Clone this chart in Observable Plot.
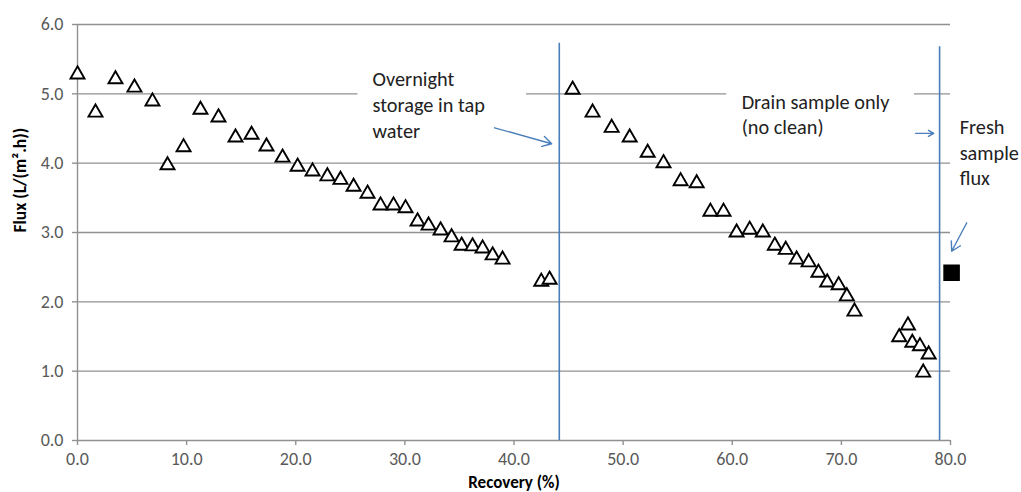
<!DOCTYPE html>
<html>
<head>
<meta charset="utf-8">
<script src="https://cdn.jsdelivr.net/npm/d3@7"></script>
<script src="https://cdn.jsdelivr.net/npm/@observablehq/plot@0.6"></script>
<style>
  html, body { margin: 0; padding: 0; background: #fff; }
  #chart svg { display: block; }
</style>
</head>
<body>
<div id="chart"></div>
<script>
// Recovery (%) and Flux (L/(m².h)) for the drain-sample run (open triangles)
const recovery = [0.0, 1.65, 3.48, 5.22, 6.87, 8.25, 9.72, 11.27, 12.92, 14.48, 15.95, 17.32, 18.79, 20.17, 21.54, 22.9, 24.1, 25.3, 26.58, 27.77, 28.96, 30.06, 31.16, 32.17, 33.27, 34.28, 35.2, 36.2, 37.12, 38.04, 38.95, 42.5, 43.26,
  45.37, 47.2, 48.95, 50.6, 52.25, 53.7, 55.27, 56.74, 58.0, 59.2, 60.4, 61.6, 62.8, 63.9, 64.9, 65.9, 67.0, 67.9, 68.7, 69.75, 70.5, 71.2, 75.3, 76.1, 76.5, 77.2, 78.0, 77.5];
const flux = [5.28, 4.73, 5.21, 5.09, 4.89, 3.97, 4.23, 4.77, 4.66, 4.37, 4.41, 4.24, 4.08, 3.95, 3.88, 3.81, 3.76, 3.66, 3.56, 3.39, 3.39, 3.35, 3.16, 3.10, 3.03, 2.93, 2.81, 2.80, 2.77, 2.67, 2.61, 2.29, 2.32,
  5.06, 4.73, 4.51, 4.37, 4.15, 4.00, 3.74, 3.71, 3.30, 3.30, 3.00, 3.04, 3.00, 2.81, 2.75, 2.61, 2.57, 2.42, 2.28, 2.24, 2.08, 1.86, 1.49, 1.66, 1.41, 1.36, 1.24, 0.98];

// Fresh sample flux (filled square)
const freshRecovery = [80.1];
const freshFlux = [2.42];

// Event markers (vertical lines)
const eventX = [44.15, 79.0];
const eventTop = [5.73, 5.68];

// Annotation texts and anchor positions (data coordinates)
const noteText = ["Overnight\nstorage in tap\nwater", "Drain sample only\n(no clean)", "Fresh\nsample\nflux"];
const noteX = [27.04, 60.86, 80.84];
const noteY = [4.86, 4.72, 4.17];

// White label boxes that interrupt the gridline
const boxX1 = [25.7, 59.5];
const boxX2 = [41.15, 76.7];
const boxY1 = [4.62, 4.62];
const boxY2 = [5.38, 5.38];

// Arrows
const arrowX1 = [38.22, 76.8, 81.49];
const arrowY1 = [4.51, 4.43, 3.14];
const arrowX2 = [43.45, 78.46, 80.11];
const arrowY2 = [4.28, 4.43, 2.73];

// Axis ticks
const xTicks = [0, 10, 20, 30, 40, 50, 60, 70, 80];
const yTicks = [0, 1, 2, 3, 4, 5, 6];
const xLabel = "Recovery (%)";
const yLabel = "Flux (L/(m².h))";

const points = recovery.map((r, i) => ({r, f: flux[i]}));
const fresh = freshRecovery.map((r, i) => ({r, f: freshFlux[i]}));
const events = eventX.map((x, i) => ({x, top: eventTop[i]}));
const notes = noteText.map((t, i) => ({t, x: noteX[i], y: noteY[i]}));
const boxes = boxX1.map((x1, i) => ({x1, x2: boxX2[i], y1: boxY1[i], y2: boxY2[i]}));
const arrows = arrowX1.map((x1, i) => ({x1, y1: arrowY1[i], x2: arrowX2[i], y2: arrowY2[i]}));

const FONT = "Carlito, Lato, 'Liberation Sans', sans-serif";
const BLUE = "#4a7ebb";
const GRID = "#919191";

const chart = Plot.plot({
  width: 1021,
  height: 492,
  marginLeft: 77,
  marginRight: 71,
  marginTop: 24,
  marginBottom: 52,
  style: {fontFamily: FONT, background: "#fff"},
  x: {domain: [0, 80], axis: null},
  y: {domain: [0, 6], axis: null},
  marks: [
    Plot.ruleY(yTicks.filter(d => d > 0), {x1: 0, x2: 80, stroke: GRID, strokeWidth: 1.4}),
    Plot.rect(boxes, {x1: "x1", x2: "x2", y1: "y1", y2: "y2", fill: "#fff"}),
    Plot.ruleX([0], {stroke: GRID, strokeWidth: 1.4}),
    Plot.ruleY([0], {stroke: GRID, strokeWidth: 1.4}),
    Plot.axisX({ticks: xTicks, tickFormat: d => d.toFixed(1), tickSize: 5, tickPadding: 7, stroke: GRID, strokeWidth: 1.4, fill: "#595959", fontSize: 18, label: null}),
    Plot.axisY({ticks: yTicks, tickFormat: d => d.toFixed(1), tickSize: 5, tickPadding: 9, stroke: GRID, strokeWidth: 1.4, fill: "#595959", fontSize: 18, label: null}),
    Plot.ruleX(events, {x: "x", y1: 0, y2: "top", stroke: BLUE, strokeWidth: 1.6}),
    Plot.arrow(arrows, {x1: "x1", y1: "y1", x2: "x2", y2: "y2", stroke: BLUE, strokeWidth: 1.4, headLength: 11, bend: 0}),
    Plot.text(notes, {x: "x", y: "y", text: "t", textAnchor: "start", lineAnchor: "middle", lineHeight: 1.27, fontSize: 20.3, fill: "#222"}),
    Plot.dot(points, {x: "r", y: "f", symbol: "triangle", r: 5.2, stroke: "#000", strokeWidth: 1.9, fill: "#fff"}),
    Plot.dot(fresh, {x: "r", y: "f", symbol: "square", r: 8.5, fill: "#000", stroke: "#000"}),
    Plot.text([xLabel], {frameAnchor: "bottom", dy: 47, fontWeight: "bold", fontSize: 17, fill: "#000"}),
    Plot.text([yLabel], {frameAnchor: "left", dx: -57, rotate: -90, fontWeight: "bold", fontSize: 17.5, fill: "#000"})
  ]
});
document.getElementById("chart").appendChild(chart);
</script>
</body>
</html>
